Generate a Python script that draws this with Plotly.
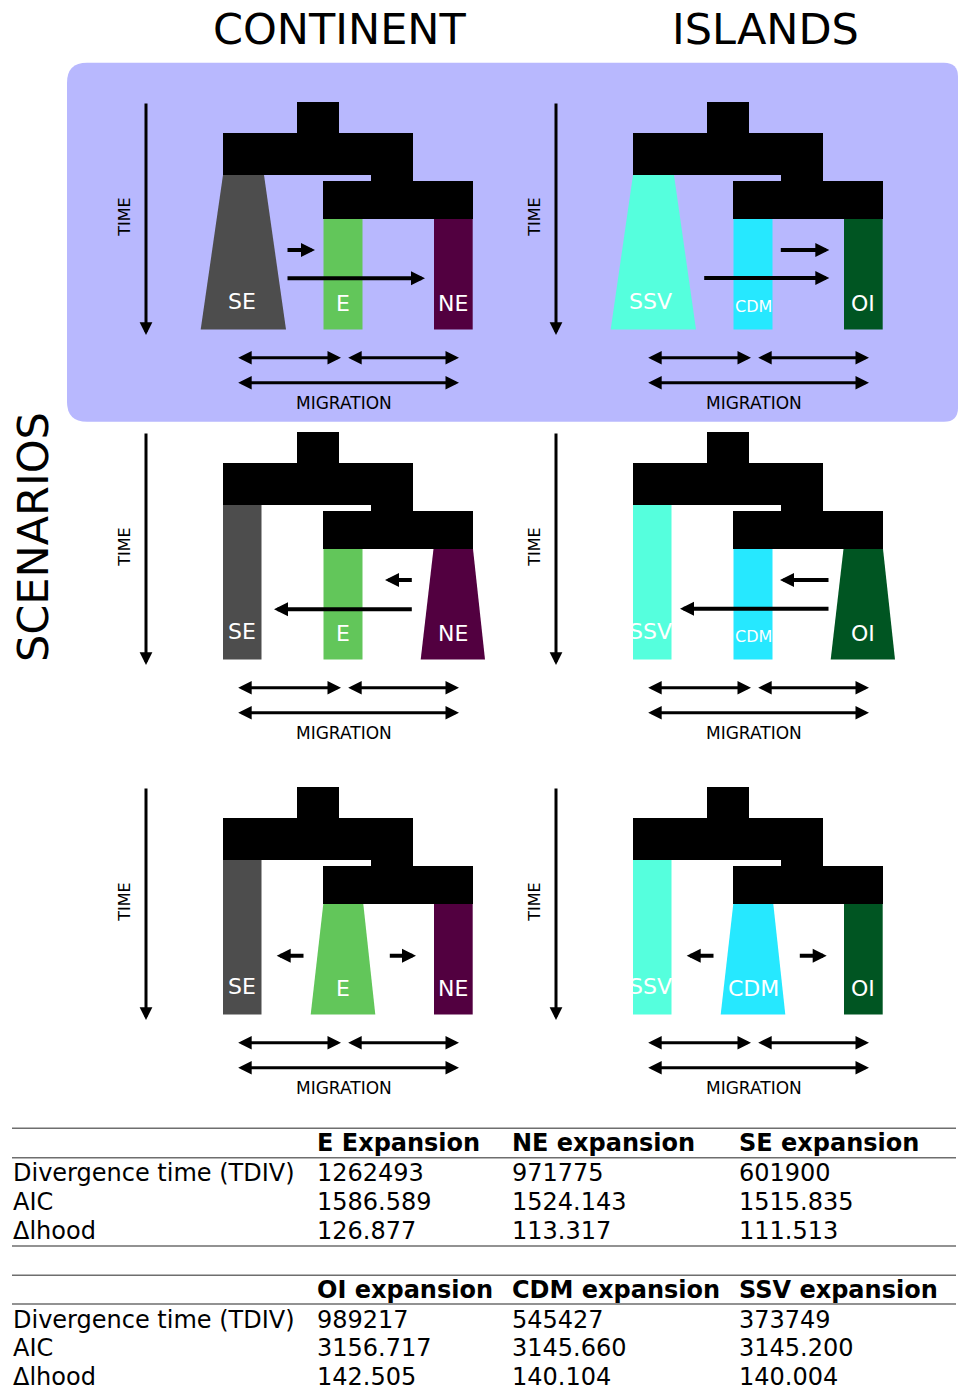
import plotly.graph_objects as go

W, H = 958, 1392
FONT = "DejaVu Sans"

# ---- headings -------------------------------------------------------------
regions = ["CONTINENT", "ISLANDS"]
region_title_x = [339, 765]
row_title = "SCENARIOS"

# ---- populations per region (left, middle, right) -------------------------
populations = [["SE", "E", "NE"], ["SSV", "CDM", "OI"]]
pop_colors = [["#4d4d4d", "#62c65a", "#520040"], ["#55ffdd", "#26e8ff", "#005522"]]
# index of the expanding population in each scenario row
expanding = [0, 2, 1]

# directional gene-flow arrows in each scenario: (x_start, x_end, y), relative units
flow_arrows = [
    [[(140, 169, 148), (140, 279, 176.3)], [(223.3, 273.3, 148), (146.7, 273.3, 176)]],
    [[(267.3, 239, 148), (267.3, 128, 177.3)], [(274, 224, 148), (274, 124, 176.7)]],
    [[(159, 130.7, 168.7), (242.3, 270, 168.7)], [(159, 130.7, 168.7), (242.3, 270.7, 168.7)]],
]

# ---- model comparison tables ---------------------------------------------
row_labels = ["Divergence time (TDIV)", "AIC", "\u0394lhood"]
cont_models = ["E Expansion", "NE expansion", "SE expansion"]
cont_tdiv = [1262493, 971775, 601900]
cont_aic = [1586.589, 1524.143, 1515.835]
cont_lhood = [126.877, 113.317, 111.513]
isl_models = ["OI expansion", "CDM expansion", "SSV expansion"]
isl_tdiv = [989217, 545427, 373749]
isl_aic = [3156.717, 3145.660, 3145.200]
isl_lhood = [142.505, 140.104, 140.004]

# ---- layout geometry ------------------------------------------------------
panel_x0 = [146, 556]
panel_y0 = [102, 432, 787]
tree_x = [151, 193, 193, 267, 267, 327, 327, 177, 177, 225, 225, 77, 77, 151, 151]
tree_y = [0, 0, 31, 31, 79, 79, 117, 117, 79, 79, 73, 73, 31, 31, 0]
pop_top = [73, 117, 117]
pop_bottom = 227.5
pop_rect = [(77, 115.5), (177.5, 216.5), (288, 326.7)]
pop_trap = [((77, 118), (54.7, 140)), ((177.3, 217.3), (164.7, 229.3)), ((287.5, 327), (274.7, 339))]
label_x = [[95.7, 196.7, 306.7], [94.7, 197.3, 307.3]]
label_y = [199, 201, 201]

fig = go.Figure()
annotations = []
shapes = []


def add_poly(xs, ys, color):
    fig.add_trace(go.Scatter(x=xs, y=ys, mode="lines", fill="toself", fillcolor=color,
                             line=dict(width=0, color=color), hoverinfo="skip",
                             showlegend=False))


def arrow(x0, y0, x1, y1, width=3, size=0.85, both=False):
    annotations.append(dict(x=x1, y=y1, ax=x0, ay=y0, xref="x", yref="y", axref="x", ayref="y",
                            text="", showarrow=True, arrowhead=2, arrowsize=size,
                            arrowwidth=width, arrowcolor="#000000",
                            arrowside="end+start" if both else "end", standoff=0,
                            startstandoff=0, startarrowhead=2, startarrowsize=size))


def label(x, y, text, size, color="#000000", angle=0, bold=False, anchor="center"):
    annotations.append(dict(x=x, y=y, xref="x", yref="y", text=f"<b>{text}</b>" if bold else text,
                            showarrow=False, textangle=angle, xanchor=anchor, yanchor="middle",
                            font=dict(family=FONT, size=size, color=color)))


# highlighted scenario background
r0, r1 = 20, 14
bx0, bx1, by0, by1 = 67, 958, 62.7, 421.7
shapes.append(dict(
    type="path", xref="x", yref="y", layer="below", fillcolor="#b8b8fe", line=dict(width=0),
    path=(f"M {bx0 + r0},{by0} L {bx1 - r1},{by0} Q {bx1},{by0} {bx1},{by0 + r1} "
          f"L {bx1},{by1 - r1} Q {bx1},{by1} {bx1 - r1},{by1} L {bx0 + r0},{by1} "
          f"Q {bx0},{by1} {bx0},{by1 - r0} L {bx0},{by0 + r0} Q {bx0},{by0} {bx0 + r0},{by0} Z")))

for ri, region in enumerate(regions):
    label(region_title_x[ri], 29, region, 43)
label(33, 537, row_title, 43, angle=-90)

for si, oy in enumerate(panel_y0):
    for ri, ox in enumerate(panel_x0):
        # ancestral tree
        add_poly([ox + v for v in tree_x], [oy + v for v in tree_y], "#000000")
        # sampled populations
        for pi in range(3):
            top = oy + pop_top[pi]
            bot = oy + pop_bottom
            if pi == expanding[si]:
                (tx0, tx1), (bx_0, bx_1) = pop_trap[pi]
                xs = [ox + tx0, ox + tx1, ox + bx_1, ox + bx_0, ox + tx0]
            else:
                px0, px1 = pop_rect[pi]
                xs = [ox + px0, ox + px1, ox + px1, ox + px0, ox + px0]
            add_poly(xs, [top, top, bot, bot, top], pop_colors[ri][pi])
            name = populations[ri][pi]
            fsize = 16 if (name == "CDM" and pi != expanding[si]) else 22
            label(ox + label_x[ri][pi], oy + label_y[pi] + (3 if fsize == 16 else 0),
                  name, fsize, color="#ffffff")
        # time axis
        arrow(ox, oy, ox, oy + 233, width=3, size=0.85)
        label(ox - 21, oy + 115.7, "TIME", 16, angle=-90)
        # directional migration
        for (a0, a1, ay) in flow_arrows[si][ri]:
            arrow(ox + a0, oy + ay, ox + a1, oy + ay, width=4, size=0.7)
        # symmetric migration
        arrow(ox + 90.7, oy + 255.7, ox + 195, oy + 255.7, width=3, size=0.9, both=True)
        arrow(ox + 200.7, oy + 255.7, ox + 313, oy + 255.7, width=3, size=0.9, both=True)
        arrow(ox + 90.7, oy + 280.7, ox + 313, oy + 280.7, width=3, size=0.9, both=True)
        label(ox + 198.3, oy + 300.7, "MIGRATION", 17)

# ---- tables ---------------------------------------------------------------
col_x = [11, 315, 510, 737]
tables = [
    (1128.3, 1143.3, 1157.7, [1173.3, 1202.3, 1230.5], 1246.0,
     cont_models, [cont_tdiv, cont_aic, cont_lhood]),
    (1275.3, 1290.0, 1304.0, [1319.6, 1348.3, 1377.2], None,
     isl_models, [isl_tdiv, isl_aic, isl_lhood]),
]
for top, head_y, head_line, rows_y, bottom, models, stats in tables:
    for yl in [top, head_line] + ([bottom] if bottom else []):
        shapes.append(dict(type="line", xref="x", yref="y", x0=12, x1=956, y0=yl, y1=yl,
                           line=dict(color="#6e6e6e", width=1.6)))
    for mi, m in enumerate(models):
        label(col_x[mi + 1], head_y, m, 24, bold=True, anchor="left")
    for ri, (name, y) in enumerate(zip(row_labels, rows_y)):
        label(col_x[0], y, name, 24, anchor="left")
        for mi in range(3):
            v = stats[ri][mi]
            txt = f"{v:d}" if isinstance(v, int) else f"{v:.3f}"
            label(col_x[mi + 1], y, txt, 24, anchor="left")

fig.update_layout(
    width=W, height=H, margin=dict(l=0, r=0, t=0, b=0),
    paper_bgcolor="#ffffff", plot_bgcolor="#ffffff",
    xaxis=dict(range=[0, W], visible=False, fixedrange=True),
    yaxis=dict(range=[H, 0], visible=False, fixedrange=True),
    shapes=shapes, annotations=annotations, showlegend=False,
)
fig.write_html("out.html")
